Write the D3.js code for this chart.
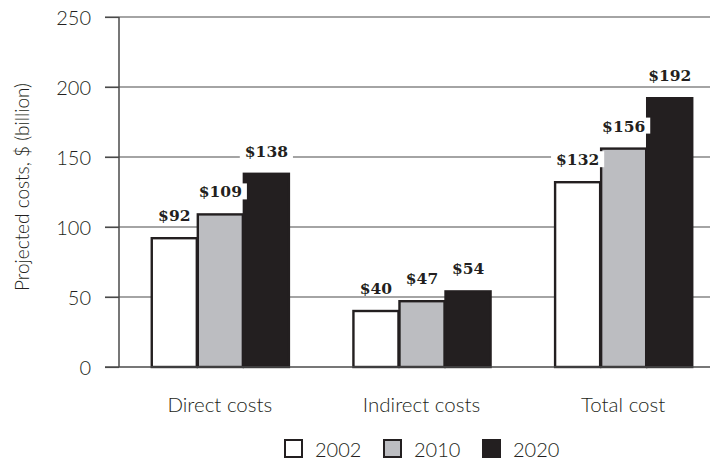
<!DOCTYPE html>
<html>
<head>
<meta charset="utf-8">
<script src="https://cdn.jsdelivr.net/npm/d3@7"></script>
<style>
  html, body { margin: 0; padding: 0; background: #fff; }
  svg { display: block; }
</style>
</head>
<body>
<svg id="chart" width="710" height="463"></svg>
<script>
const categories = ["Direct costs", "Indirect costs", "Total cost"];
const seriesNames = ["2002", "2010", "2020"];
const values2002 = [92, 40, 132];
const values2010 = [109, 47, 156];
const values2020 = [138, 54, 192];
const yTicks = [0, 50, 100, 150, 200, 250];
const yTitle = "Projected costs, $ (billion)";

const seriesValues = [values2002, values2010, values2020];
const fills = ["#ffffff", "#bcbdc1", "#231f20"];
const ink = "#231f20";
const sans = "Lato, 'Open Sans', sans-serif";

const svg = d3.select("#chart");
const axisX = 119, x1Edge = 724;
const y = d3.scaleLinear().domain([0, 250]).range([367, 17]);
const x0 = d3.scaleBand().domain(categories).range([axisX, x1Edge]).paddingInner(0.315).paddingOuter(0.1575);
const x1 = d3.scaleBand().domain(seriesNames).range([0, x0.bandwidth()]).padding(0);

// gridlines
svg.append("g").selectAll("line").data(yTicks.filter(t => t > 0)).join("line")
  .attr("x1", 105).attr("x2", 710)
  .attr("y1", d => y(d)).attr("y2", d => y(d))
  .attr("stroke", "#4a4a4a").attr("stroke-width", 1.2);

// y axis
const yAxis = d3.axisLeft(y).tickValues(yTicks).tickSize(14).tickPadding(14);
const yg = svg.append("g").attr("transform", `translate(${axisX},0)`).call(yAxis);
yg.select(".domain").attr("stroke", "#4a4a4a").attr("stroke-width", 1.5).attr("d", `M0,${y(250)}V${y(0)}`);
yg.selectAll(".tick line").attr("stroke", "#4a4a4a").attr("stroke-width", 1.2);
yg.selectAll(".tick text").attr("font-family", sans).attr("font-weight", 300)
  .attr("font-size", 20).attr("fill", ink).attr("dy", "0.36em");

// y title
svg.append("text")
  .attr("transform", `translate(29,187) rotate(-90)`)
  .attr("text-anchor", "middle")
  .attr("font-family", sans).attr("font-weight", 300)
  .attr("font-size", 19).attr("fill", ink)
  .text(yTitle);

// bars
const groups = svg.append("g").selectAll("g").data(categories).join("g")
  .attr("transform", d => `translate(${x0(d)},0)`);

const cellData = (c, ci) => seriesNames.map((s, si) => ({ s, si, v: seriesValues[si][ci] }));

groups.selectAll("rect").data(cellData).join("rect")
  .attr("x", d => x1(d.s) + 1)
  .attr("y", d => y(d.v))
  .attr("width", x1.bandwidth() - 1)
  .attr("height", d => y(0) - y(d.v))
  .attr("fill", d => fills[d.si])
  .attr("stroke", ink).attr("stroke-width", 2.4);

// baseline
svg.append("line").attr("x1", 105).attr("x2", 710).attr("y1", y(0)).attr("y2", y(0))
  .attr("stroke", "#4a4a4a").attr("stroke-width", 1.5);

// value labels with white backing
const lab = groups.selectAll("g.lab").data(cellData)
  .join("g").attr("class", "lab")
  .attr("transform", d => `translate(${x1(d.s) + x1.bandwidth() / 2 + 0.5},${y(d.v) - 17})`);
lab.append("text")
  .attr("text-anchor", "middle")
  .attr("font-family", "'DejaVu Serif', serif")
  .attr("font-weight", "bold")
  .attr("font-size", 15.5)
  .attr("fill", ink)
  .text(d => "$" + d.v);
lab.each(function () {
  const g = d3.select(this);
  const bb = g.select("text").node().getBBox();
  g.insert("rect", "text")
    .attr("x", bb.x - 5).attr("y", bb.y + 1)
    .attr("width", bb.width + 10).attr("height", -bb.y + 1)
    .attr("fill", "#fff");
});

// category labels
svg.append("g").selectAll("text").data(categories).join("text")
  .attr("x", d => x0(d) + x0.bandwidth() / 2)
  .attr("y", 412)
  .attr("text-anchor", "middle")
  .attr("font-family", sans).attr("font-weight", 300)
  .attr("font-size", 20.5).attr("fill", ink)
  .text(d => d);

// legend
const legend = svg.append("g").selectAll("g").data(seriesNames).join("g")
  .attr("transform", (d, i) => `translate(${285 + i * 99},440)`);
legend.append("rect")
  .attr("width", 17).attr("height", 17)
  .attr("fill", (d, i) => fills[i])
  .attr("stroke", ink).attr("stroke-width", 2);
legend.append("text")
  .attr("x", 30).attr("y", 17)
  .attr("font-family", sans).attr("font-weight", 300)
  .attr("font-size", 20).attr("fill", ink)
  .text(d => d);
</script>
</body>
</html>
